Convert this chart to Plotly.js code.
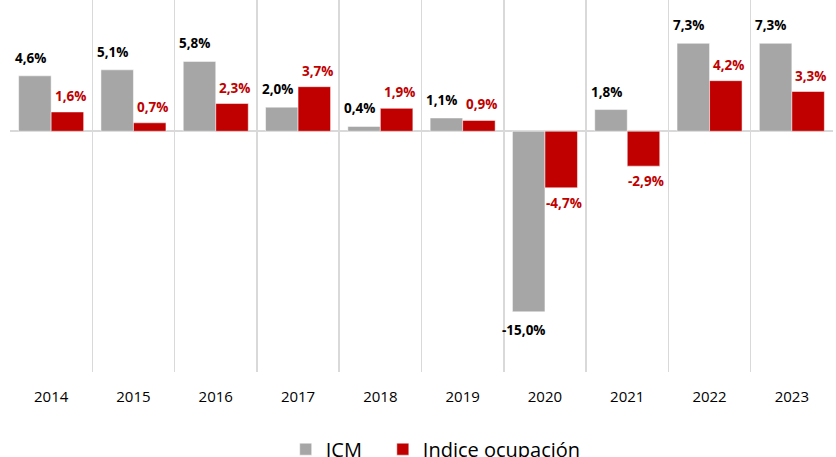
<!DOCTYPE html>
<html>
<head>
<meta charset="utf-8">
<script src="https://cdn.plot.ly/plotly-3.0.1.min.js"></script>
<style>html,body{margin:0;padding:0;background:#fff;}#chart{width:836px;height:457px;}</style>
</head>
<body>
<div id="chart"></div>
<script>
const years = ["2014","2015","2016","2017","2018","2019","2020","2021","2022","2023"];
const icm = [4.6, 5.1, 5.8, 2.0, 0.4, 1.1, -15.0, 1.8, 7.3, 7.3];
const ocupacion = [1.6, 0.7, 2.3, 3.7, 1.9, 0.9, -4.7, -2.9, 4.2, 3.3];
const seriesNames = ["ICM", "Indice ocupación"];
const colors = ["#A6A6A6", "#C00000"];

function fmt(v){ return v.toFixed(1).replace('.', ',') + '%'; }

const traces = [
  {type:'bar', name:seriesNames[0], x:years, y:icm, legend:'legend', marker:{color:colors[0], line:{color:'#ffffff', width:0.5}}},
  {type:'bar', name:seriesNames[1], x:years, y:ocupacion, legend:'legend2', marker:{color:colors[1], line:{color:'#ffffff', width:0.5}}}
];

const annotations = [];
const lblFont = {family:'Open Sans, DejaVu Sans, sans-serif', size:13.5};
years.forEach((yr, i) => {
  annotations.push({x:i, y:icm[i], xref:'x', yref:'y', text:'<b>'+fmt(icm[i])+'</b>', showarrow:false,
    xshift:-21, yshift: icm[i] >= 0 ? 18 : -18, font:Object.assign({color:'#000000'}, lblFont)});
  annotations.push({x:i, y:ocupacion[i], xref:'x', yref:'y', text:'<b>'+fmt(ocupacion[i])+'</b>', showarrow:false,
    xshift:19, yshift: ocupacion[i] >= 0 ? 16 : -15, font:Object.assign({color:'#C00000'}, lblFont)});
});

const legendBase = {orientation:'h', xanchor:'left', y:-0.155, yanchor:'top', font:{size:20, color:'#000000'}, bgcolor:'rgba(0,0,0,0)'};

const layout = {
  width:836, height:457,
  margin:{l:10, r:3, t:0, b:85, autoexpand:false},
  paper_bgcolor:'#ffffff', plot_bgcolor:'#ffffff',
  barmode:'group', bargap:0.21, bargroupgap:0,
  font:{family:'Open Sans, DejaVu Sans, sans-serif', color:'#000000'},
  xaxis:{type:'category', range:[-0.5, 9.5], tickson:'boundaries', showgrid:true, gridcolor:'#D9D9D9', gridwidth:1.5,
    ticks:'', ticklabelstandoff:14, showline:false, zeroline:false,
    tickfont:{size:15, color:'#000000'}, tickangle:0},
  yaxis:{range:[-20, 10.9], showgrid:false, zeroline:true, zerolinecolor:'#D9D9D9', zerolinewidth:2,
    showticklabels:false, ticks:'', showline:false},
  showlegend:true,
  legend:Object.assign({x:0.335}, legendBase),
  legend2:Object.assign({x:0.453}, legendBase),
  annotations:annotations
};

Plotly.newPlot('chart', traces, layout, {displayModeBar:false, staticPlot:true});
</script>
</body>
</html>
